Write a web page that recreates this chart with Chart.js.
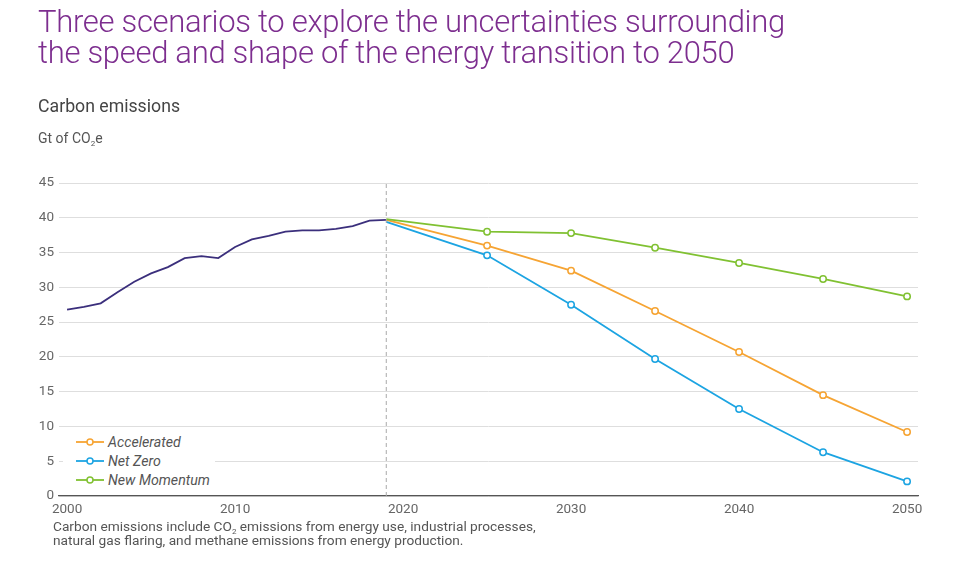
<!DOCTYPE html>
<html>
<head>
<meta charset="utf-8">
<script src="https://cdn.jsdelivr.net/npm/chart.js@4.4.1/dist/chart.umd.min.js"></script>
<style>
  html, body { margin: 0; padding: 0; background: #fff; }
  body { width: 958px; height: 561px; position: relative; overflow: hidden; font-family: Roboto, "Liberation Sans", sans-serif; }
  #title { position: absolute; left: 38px; top: 6px; font-size: 31px; font-weight: 300; line-height: 31px; color: #7d2e8f; letter-spacing: -0.3px; margin: 0; }
  #subtitle { position: absolute; left: 38px; top: 96px; font-size: 17.7px; color: #444; }
  #unit { position: absolute; left: 38px; top: 130px; font-size: 14px; color: #555; }
  #note { position: absolute; left: 53px; top: 519px; font-size: 13.7px; line-height: 14px; color: #555; }
  sub { font-size: 8px; vertical-align: -3px; line-height: 0; }
  #wrap { position: absolute; left: 0; top: 0; width: 958px; height: 561px; }
  #legend { position: absolute; left: 63px; top: 430px; width: 152px; background: #fff; padding: 2px 0; }
  .item { display: flex; align-items: center; height: 19px; font-size: 14.2px; font-style: italic; color: #555; }
  .item svg { margin-left: 13px; margin-right: 4px; }
</style>
</head>
<body>
<div id="wrap"><canvas id="chart"></canvas></div>
<h1 id="title">Three scenarios to explore the uncertainties surrounding<br>the speed and shape of the energy transition to 2050</h1>
<div id="subtitle">Carbon emissions</div>
<div id="unit">Gt of CO<sub>2</sub>e</div>
<div id="legend"></div>
<div id="note">Carbon emissions include CO<sub>2</sub> emissions from energy use, industrial processes,<br>natural gas flaring, and methane emissions from energy production.</div>
<script>
// historical emissions, Gt CO2e
const historyYears = [2000, 2001, 2002, 2003, 2004, 2005, 2006, 2007, 2008, 2009,
                      2010, 2011, 2012, 2013, 2014, 2015, 2016, 2017, 2018, 2019];
const historyValues = [26.8, 27.2, 27.7, 29.3, 30.8, 32.0, 32.9, 34.2, 34.5, 34.2,
                       35.8, 36.9, 37.4, 38.0, 38.2, 38.2, 38.4, 38.8, 39.6, 39.7];

// scenarios
const scenarioYears = [2019, 2025, 2030, 2035, 2040, 2045, 2050];
const accelerated = [39.7, 36.0, 32.4, 26.6, 20.7, 14.5, 9.2];
const netZero = [39.4, 34.6, 27.5, 19.7, 12.5, 6.3, 2.1];
const newMomentum = [39.8, 38.0, 37.8, 35.7, 33.5, 31.2, 28.7];

const scenarioNames = ['Accelerated', 'Net Zero', 'New Momentum'];
const scenarioColors = ['#f6a433', '#1ca4e2', '#80c132'];

const xTicks = [2000, 2010, 2020, 2030, 2040, 2050];
const yTicks = [0, 5, 10, 15, 20, 25, 30, 35, 40, 45];
const dividerYear = 2019;

function pairs(xs, ys) {
    return xs.map((x, i) => ({ x: x, y: ys[i] }));
}

function scenarioSet(label, values, color) {
    return {
        label: label,
        data: pairs(scenarioYears, values),
        borderColor: color,
        backgroundColor: '#fff',
        borderWidth: 1.8,
        pointRadius: ctx => ctx.dataIndex === 0 ? 0 : 3.2,
        pointBorderWidth: 1.5,
        pointBackgroundColor: '#fff',
        pointBorderColor: color,
        tension: 0
    };
}

const scenarioValues = [accelerated, netZero, newMomentum];

const datasets = [
    {
        label: 'divider',
        data: [{ x: dividerYear, y: 0 }, { x: dividerYear, y: 45 }],
        borderColor: '#aaa',
        borderWidth: 1,
        borderDash: [4, 3],
        pointRadius: 0
    },
    {
        label: 'History',
        data: pairs(historyYears, historyValues),
        borderColor: '#3b2f7c',
        borderWidth: 1.8,
        pointRadius: 0,
        tension: 0
    }
];
// draw new momentum first so the others sit on top
for (let i = scenarioNames.length - 1; i >= 0; i--) {
    datasets.push(scenarioSet(scenarioNames[i], scenarioValues[i], scenarioColors[i]));
}

// html legend
const legend = document.getElementById('legend');
scenarioNames.forEach((name, i) => {
    const c = scenarioColors[i];
    const row = document.createElement('div');
    row.className = 'item';
    row.innerHTML = `<svg width="28" height="8"><line x1="0" y1="4" x2="28" y2="4" stroke="${c}" stroke-width="1.8"/><circle cx="14" cy="4" r="3" fill="#fff" stroke="${c}" stroke-width="1.5"/></svg>${name}`;
    legend.appendChild(row);
});

new Chart(document.getElementById('chart'), {
    type: 'line',
    data: { datasets: datasets },
    options: {
        responsive: true,
        maintainAspectRatio: false,
        animation: false,
        layout: { padding: { top: 183, left: 0, right: 40, bottom: 43 } },
        plugins: { legend: { display: false }, tooltip: { enabled: false } },
        scales: {
            x: {
                type: 'linear',
                min: 1999.52,
                max: 2050.65,
                afterBuildTicks: s => { s.ticks = xTicks.map(v => ({ value: v })); },
                afterFit: s => { s.height = 22; },
                grid: { display: false, drawTicks: false },
                border: { display: true, color: '#555', width: 1.2 },
                ticks: {
                    color: '#666', font: { family: 'Roboto', size: 13.5 }, padding: 6, maxRotation: 0,
                    callback: v => String(v)
                }
            },
            y: {
                min: 0,
                max: 45,
                afterBuildTicks: s => { s.ticks = yTicks.map(v => ({ value: v })); },
                afterFit: s => { s.width = 59; },
                grid: { color: '#dedede', drawTicks: false, lineWidth: 1 },
                border: { display: false },
                ticks: { color: '#666', font: { family: 'Roboto', size: 13.5 }, padding: 5 }
            }
        }
    }
});
</script>
</body>
</html>
